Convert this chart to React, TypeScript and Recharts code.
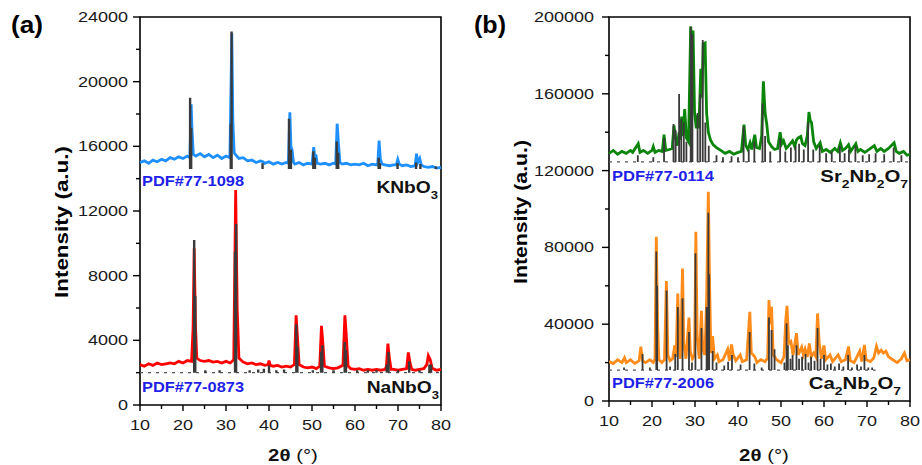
import { ComposedChart, Line, XAxis, YAxis, ReferenceArea } from 'recharts';

const FONT = '"Liberation Sans", Arial, sans-serif';
const SX = 1.2; // horizontal stretch of the source figure's lettering

// 2θ ticks (every 5°, labels every 10°)
const xTicks = [10, 15, 20, 25, 30, 35, 40, 45, 50, 55, 60, 65, 70, 75, 80];
const yTicksA = [0, 2000, 4000, 6000, 8000, 10000, 12000, 14000, 16000, 18000, 20000, 22000, 24000];
const yTicksB = [0, 20000, 40000, 60000, 80000, 100000, 120000, 140000, 160000, 180000, 200000];

// measured patterns [2θ, intensity]
const knbo3: [number, number][] = [
  [10, 15000], [11, 15100], [12, 14950], [13, 15150], [14, 15050], [15, 15200], [16, 15100], [17, 15300],
  [18, 15200], [19, 15350], [20, 15250], [21, 15400], [21.6, 15300], [21.9, 18600], [22.1, 17000], [22.4, 15500],
  [23, 15400], [24, 15550], [25, 15350], [26, 15500], [27, 15300], [28, 15450], [29, 15250], [30, 15400],
  [30.9, 15300], [31.35, 23000], [31.6, 17500], [31.9, 15600], [32.5, 15400], [33, 15250], [34, 15300],
  [35, 15100], [36, 15150], [37, 15000], [38, 15100], [38.6, 15050], [39, 14950], [40, 15050], [41, 14900],
  [42, 15000], [43, 14900], [44, 15000], [44.5, 14950], [44.85, 18100], [45.1, 16000], [45.35, 15800],
  [45.7, 15000], [46, 14900], [47, 15000], [48, 14850], [49, 14950], [50, 14900], [50.4, 15950], [50.7, 15200],
  [50.9, 15500], [51.2, 14950], [52, 14900], [53, 14950], [54, 14850], [55, 14950], [55.5, 14900],
  [55.85, 17400], [56.15, 16200], [56.5, 15000], [57, 14900], [58, 14950], [59, 14850], [60, 14900],
  [61, 14850], [62, 14950], [63, 14800], [64, 14900], [65, 14850], [65.3, 14950], [65.6, 16350], [65.9, 15200],
  [66.3, 14900], [67, 14850], [68, 14800], [69, 14850], [69.6, 14850], [69.95, 15200], [70.3, 14900],
  [71, 14800], [72, 14850], [73, 14750], [74, 14800], [74.3, 15550], [74.6, 15000], [75.05, 15250],
  [75.4, 14850], [76, 14750], [77, 14700], [78, 14750], [79, 14650], [80, 14700],
];

const nanbo3: [number, number][] = [
  [10, 2500], [11, 2400], [12, 2550], [13, 2450], [14, 2600], [15, 2500], [16, 2550], [17, 2600], [18, 2550],
  [19, 2700], [20, 2600], [21, 2750], [22, 2700], [22.35, 4800], [22.6, 9700], [22.9, 5000], [23.2, 2900],
  [24, 2750], [25, 2700], [26, 2750], [27, 2650], [28, 2700], [29, 2600], [30, 2700], [31, 2600], [31.8, 2800],
  [32.25, 13300], [32.6, 6000], [33, 2900], [34, 2650], [35, 2550], [36, 2600], [37, 2500], [38, 2550],
  [39, 2450], [39.8, 2500], [40, 2750], [40.3, 2450], [41, 2400], [42, 2450], [43, 2350], [44, 2400],
  [45, 2350], [45.9, 2500], [46.3, 5550], [46.6, 4300], [47, 2500], [48, 2350], [49, 2300], [50, 2350],
  [51, 2250], [51.8, 2400], [52.2, 4900], [52.5, 3900], [52.9, 2400], [54, 2300], [55, 2250], [56, 2300],
  [57.2, 2450], [57.65, 5550], [57.95, 4400], [58.4, 2400], [59, 2250], [60, 2200], [61, 2250], [62, 2150],
  [63, 2200], [64, 2150], [65, 2200], [66, 2150], [67, 2200], [67.3, 2400], [67.65, 3800], [68, 2900],
  [68.4, 2200], [69, 2200], [70, 2150], [71, 2200], [72, 2250], [72.4, 3250], [72.8, 2600], [73.2, 2200],
  [74, 2150], [75, 2200], [76, 2250], [76.7, 2500], [77.05, 3050], [77.5, 2800], [77.9, 2300], [78.5, 2200],
  [79, 2150], [80, 2200],
];

const sr2nb2o7: [number, number][] = [
  [10, 129000], [11, 130500], [12, 128500], [13, 130000], [14, 129000], [15, 130500], [15.5, 129500],
  [16.8, 134000], [17.2, 129500], [18, 130500], [19, 129000], [20, 130500], [20.3, 132500], [20.7, 129500],
  [21.5, 130500], [22.4, 130000], [22.8, 138700], [23.2, 130500], [24, 131000], [24.7, 131500],
  [25.1, 143500], [25.5, 137000], [25.9, 133000], [26.3, 140000], [26.6, 136000], [26.9, 148200],
  [27.2, 138000], [27.6, 152000], [28, 137000], [28.5, 135000], [29, 195000], [29.3, 185000],
  [29.55, 193000], [29.9, 150000], [30.3, 142000], [30.65, 149000], [30.9, 142000], [31.35, 173000],
  [31.6, 158000], [31.9, 186000], [32.35, 186500], [32.7, 150000], [33.1, 140000], [33.6, 136000],
  [34.2, 133500], [35, 132000], [36, 130500], [37, 129000], [38, 130000], [39, 128500], [40, 129500],
  [40.8, 130000], [41.4, 144000], [41.8, 133000], [42.3, 131000], [42.8, 134500], [43.2, 131000],
  [43.9, 138700], [44.3, 132000], [45, 131500], [45.5, 138000], [45.9, 166500], [46.3, 150000],
  [46.7, 144000], [47.1, 135000], [47.8, 132500], [48.5, 131000], [49.2, 131500], [49.8, 140000],
  [50.2, 134000], [50.6, 135500], [51.2, 131500], [51.8, 133000], [52.7, 135500], [53.2, 132500],
  [53.6, 136000], [54, 137000], [54.6, 137800], [55, 134000], [55.6, 133000], [56.1, 138000],
  [56.5, 150500], [56.8, 146000], [57.1, 145000], [57.6, 135000], [58.2, 131500], [59.1, 134500],
  [59.6, 130000], [60.5, 131000], [61.5, 129500], [62.5, 131500], [63.2, 130000], [63.8, 134500],
  [64.3, 130500], [65, 131500], [65.7, 133500], [66.2, 130000], [67.4, 134000], [67.9, 130000],
  [68.5, 131000], [69.5, 129500], [70.5, 131000], [71.7, 133000], [72.3, 130000], [73.2, 131500],
  [74, 130000], [75, 131500], [76.3, 134500], [76.8, 130000], [77.5, 129000], [78.5, 130000],
  [79.3, 128000], [80, 128500],
];

const ca2nb2o7: [number, number][] = [
  [10, 20500], [11, 19500], [12, 21500], [13, 20000], [13.6, 22500], [14, 20000], [15, 21500], [16, 19500],
  [17, 21000], [17.4, 28300], [17.8, 21000], [18.5, 20000], [19.5, 21500], [20.3, 20000], [20.7, 22000],
  [21, 85600], [21.3, 40000], [21.6, 21500], [22.3, 20000], [22.9, 21500], [23.35, 62500], [23.7, 24000],
  [24.2, 21000], [24.8, 22000], [25.3, 29000], [25.6, 23000], [26, 56000], [26.3, 30000], [26.6, 22000],
  [27.1, 69000], [27.4, 30000], [27.9, 22000], [28.6, 43500], [28.9, 26000], [29.4, 22000], [29.9, 24000],
  [30.2, 88200], [30.5, 34000], [31, 22000], [31.5, 47000], [31.8, 27000], [32.3, 24000], [32.7, 53500],
  [33.1, 109000], [33.4, 60000], [33.7, 25000], [34.1, 33800], [34.5, 22000], [35.2, 24000], [35.6, 20500],
  [36.5, 21500], [37.6, 27000], [38, 21000], [38.5, 29500], [38.9, 24000], [39.5, 21000], [40.5, 24000],
  [41, 20500], [42, 21500], [42.75, 46500], [43.1, 25000], [43.9, 23000], [44.4, 20000], [45.3, 21500],
  [46.3, 20500], [46.9, 22500], [47.2, 52600], [47.5, 40000], [47.8, 49000], [48.2, 24000], [49, 21500],
  [50, 20000], [50.7, 23000], [51.1, 42000], [51.4, 49600], [51.8, 30000], [52.3, 31000], [52.8, 24000],
  [53.6, 35300], [54, 24000], [54.8, 28000], [55.2, 24000], [55.6, 27000], [56.1, 23000], [56.6, 30000],
  [57, 23000], [57.6, 25000], [58.1, 23000], [58.5, 45600], [58.9, 30000], [59.4, 22000], [60, 29000],
  [60.4, 21500], [61.4, 24000], [62, 20500], [63.3, 24000], [64, 20500], [65, 21500], [65.7, 28400],
  [66.1, 21000], [67, 20000], [68.3, 26000], [68.8, 20500], [69.4, 29200], [69.8, 21500], [70.8, 20500],
  [71.6, 22500], [72.2, 28500], [72.7, 25000], [73.3, 26500], [73.8, 25000], [74.4, 26000], [75, 23000],
  [76, 21500], [77, 20000], [78, 22000], [78.7, 25000], [79.3, 21000], [80, 21500],
];

// PDF reference sticks [2θ, top]; bases below
const knbo3Base = 14600;
const knbo3Pdf: [number, number][] = [
  [21.65, 19000], [21.9, 17150], [31.1, 17400], [31.3, 23100], [38.5, 14950], [44.65, 17700], [45.1, 15800],
  [50.3, 15700], [50.7, 15300], [55.75, 16300], [56.1, 15600], [65.5, 15300], [65.8, 14950], [69.9, 14950],
  [74.2, 15000], [75.2, 14900], [78.8, 14750],
];
const nanbo3Base = 2000;
const nanbo3Pdf: [number, number][] = [
  [22.6, 10200], [22.85, 6750], [25.2, 2150], [28.5, 2150], [32.1, 9500], [32.35, 11200], [35.5, 2150],
  [37.5, 2200], [38.8, 2250], [40, 2450], [41.7, 2150], [43.5, 2200], [46.35, 5000], [46.6, 3600],
  [50.2, 2150], [52.1, 3300], [52.4, 3700], [55, 2150], [57.6, 3900], [57.9, 3400], [60.5, 2150], [63, 2150],
  [65, 2150], [67.4, 2500], [67.8, 3300], [70, 2150], [72.6, 2700], [75, 2150], [77.3, 2500], [77.7, 2500],
];
const sr2nb2o7Base = 124500;
const sr2nb2o7Pdf: [number, number][] = [
  [16.7, 128000], [20.3, 127000], [22.8, 137000], [25, 144300], [25.5, 141000], [26.3, 159900],
  [26.8, 147000], [27.4, 145000], [28, 135000], [29, 195000], [29.4, 191000], [30.6, 150000],
  [31.2, 160000], [31.8, 188000], [32.4, 145000], [33.2, 133000], [35, 128000], [36.5, 127000],
  [38.5, 127500], [40, 127000], [41.3, 143000], [42.5, 131000], [43.8, 135000], [45.7, 155000],
  [46.3, 138000], [47.5, 130000], [49.8, 137000], [51, 130000], [52.3, 132000], [53.4, 133000],
  [54.2, 134000], [55.3, 131000], [56.3, 145000], [57.5, 131000], [59, 133000], [60.5, 129000],
  [61.8, 130000], [63.7, 133000], [64.8, 129000], [65.8, 131000], [67.3, 133000], [69, 128000],
  [70.5, 128500], [72, 129000], [74, 128500], [76.2, 132000], [78, 128000],
];
const ca2nb2o7Base = 16100;
const ca2nb2o7Pdf: [number, number][] = [
  [13.5, 17500], [17.8, 24500], [19.5, 17500], [21, 77800], [21.2, 60000], [23.4, 57500], [24.2, 18000],
  [25.4, 24500], [26, 49000], [27.1, 53500], [28.6, 36000], [29.3, 20000], [30.1, 77000], [31.5, 38000],
  [32.7, 49000], [33.1, 98000], [33.3, 66000], [34.1, 26000], [35, 20000], [36.8, 18500], [37.7, 20500],
  [38.6, 24000], [40.6, 19000], [42.7, 36000], [43.8, 19500], [45.5, 17500], [47.2, 43500], [47.8, 37000],
  [48.5, 27000], [50.8, 20000], [51.3, 40500], [51.6, 29000], [52.2, 22000], [52.7, 24000], [53.6, 29000],
  [54.2, 22000], [54.9, 23000], [55.7, 24500], [56.4, 20000], [57, 23000], [57.8, 21000], [58.5, 38000],
  [59.2, 22000], [60, 24000], [60.8, 19000], [61.6, 19500], [62.5, 18000], [63.5, 19500], [64.5, 18000],
  [65.6, 24000], [66.5, 17500], [67.7, 19000], [68.6, 18000], [69.4, 24000], [70.3, 17500], [71.2, 17500],
];

const toPts = (arr: [number, number][]) => arr.map(([x, y]) => ({ x, y }));
const toSticks = (arr: [number, number][], base: number) =>
  arr.flatMap(([x, top]) => [{ x, y: base }, { x, y: top }, { x, y: null }]);
const baseLine = (x1: number, x2: number, y: number) => [{ x: x1, y }, { x: x2, y }];

const STICK = '#3a3a3a';

function XTick(props: any) {
  const { x, y, payload } = props;
  const v = payload.value;
  const major = v % 10 === 0;
  return (
    <g>
      <line x1={x} y1={y} x2={x} y2={y + (major ? 6 : 4)} stroke="#000" strokeWidth={1.4} />
      {major && (
        <text transform={`translate(${x},${y + 25}) scale(${SX},1)`} textAnchor="middle" fontSize={15}
          fontFamily={FONT} fill="#1a1a1a">{v}</text>
      )}
    </g>
  );
}

const makeYTick = (step: number, gap: number) => (props: any) => {
  const { x, y, payload } = props;
  const v = payload.value;
  const major = v % step === 0;
  return (
    <g>
      <line x1={x - (major ? 7 : 4)} y1={y} x2={x} y2={y} stroke="#000" strokeWidth={1.4} />
      {major && (
        <text transform={`translate(${x - gap},${y + 5}) scale(${SX},1)`} textAnchor="end" fontSize={15}
          fontFamily={FONT} fill="#1a1a1a">{v}</text>
      )}
    </g>
  );
};
const YTickA = makeYTick(4000, 12);
const YTickB = makeYTick(40000, 15);

function Formula({ x, y, parts, size }: { x: number; y: number; parts: [string, string?][]; size: number }) {
  return (
    <text transform={`translate(${x},${y}) scale(${SX},1)`} textAnchor="end" fontSize={size} fontWeight="bold"
      fontFamily={FONT} fill="#111">
      {parts.map(([main, sub], i) => (
        <tspan key={i}>
          <tspan dy={i > 0 && parts[i - 1][1] ? -6 : 0}>{main}</tspan>
          {sub && <tspan fontSize={size * 0.68} dy={6}>{sub}</tspan>}
        </tspan>
      ))}
    </text>
  );
}

function Pdf({ x, y, label }: { x: number; y: number; label: string }) {
  return (
    <text transform={`translate(${x},${y}) scale(${SX},1)`} fontSize={14} fontWeight="bold" fontFamily={FONT}
      fill="#1f1fe8" textLength={85} lengthAdjust="spacingAndGlyphs">{label}</text>
  );
}

function Annotations() {
  return (
    <svg width={922} height={465} style={{ position: 'absolute', left: 0, top: 0, pointerEvents: 'none' }}>
      <text x={11} y={33} fontSize={24} fontWeight="bold" fontFamily={FONT} textLength={32} lengthAdjust="spacingAndGlyphs">(a)</text>
      <text x={474} y={33} fontSize={24} fontWeight="bold" fontFamily={FONT} textLength={32} lengthAdjust="spacingAndGlyphs">(b)</text>

      <text transform="translate(68,222) rotate(-90)" textAnchor="middle" fontSize={19} fontWeight="bold"
        fontFamily={FONT} textLength={152} lengthAdjust="spacingAndGlyphs">Intensity (a.u.)</text>
      <text transform="translate(527,212) rotate(-90)" textAnchor="middle" fontSize={19} fontWeight="bold"
        fontFamily={FONT} textLength={144} lengthAdjust="spacingAndGlyphs">Intensity (a.u.)</text>

      <text transform={`translate(293,461) scale(${SX},1)`} textAnchor="middle" fontSize={17} fontFamily={FONT} fill="#111">
        <tspan fontWeight="bold">2θ</tspan> (°)
      </text>
      <text transform={`translate(764,461) scale(${SX},1)`} textAnchor="middle" fontSize={17} fontFamily={FONT} fill="#111">
        <tspan fontWeight="bold">2θ</tspan> (°)
      </text>

      <Pdf x={142} y={186} label="PDF#77-1098" />
      <Pdf x={142} y={392} label="PDF#77-0873" />
      <Pdf x={612} y={181} label="PDF#77-0114" />
      <Pdf x={612} y={388} label="PDF#77-2006" />

      <Formula x={438} y={193} size={16} parts={[['KNbO', '3']]} />
      <Formula x={439} y={393} size={16} parts={[['NaNbO', '3']]} />
      <Formula x={908} y={182} size={17} parts={[['Sr', '2'], ['Nb', '2'], ['O', '7']]} />
      <Formula x={901} y={389} size={17} parts={[['Ca', '2'], ['Nb', '2'], ['O', '7']]} />
    </svg>
  );
}

export default function App() {
  const common = { dataKey: 'y', dot: false, activeDot: false, isAnimationActive: false, type: 'linear' as const };
  return (
    <div style={{ position: 'absolute', left: 0, top: 0, width: 922, height: 465, background: '#fff', fontFamily: FONT }}>
      <div style={{ position: 'absolute', left: 0, top: 0 }}>
        <ComposedChart width={461} height={465} margin={{ top: 17, right: 20, bottom: 30, left: 100 }}>
          <XAxis dataKey="x" type="number" domain={[10, 80]} ticks={xTicks} interval={0} height={30}
            axisLine={false} tickLine={false} tickSize={0} tickMargin={0} tick={<XTick />} />
          <YAxis type="number" domain={[0, 24000]} ticks={yTicksA} interval={0} width={40}
            axisLine={false} tickLine={false} tickSize={0} tickMargin={0} tick={<YTickA />} />
          <Line {...common} data={toPts(knbo3)} stroke="#1e90ff" strokeWidth={2.8} />
          <Line {...common} data={toPts(nanbo3)} stroke="#ff0000" strokeWidth={2.8} />
          <Line {...common} data={baseLine(10, 80, nanbo3Base)} stroke="#555" strokeWidth={1.2} strokeDasharray="3 5" />
          <Line {...common} data={toSticks(knbo3Pdf, knbo3Base)} stroke={STICK} strokeWidth={2.4} connectNulls={false} />
          <Line {...common} data={toSticks(nanbo3Pdf, nanbo3Base)} stroke={STICK} strokeWidth={2.4} connectNulls={false} />
          <ReferenceArea x1={10} x2={80} y1={0} y2={24000} fill="none" stroke="#000" strokeWidth={1.6} />
        </ComposedChart>
      </div>
      <div style={{ position: 'absolute', left: 461, top: 0 }}>
        <ComposedChart width={461} height={465} margin={{ top: 17, right: 12, bottom: 34, left: 108 }}>
          <XAxis dataKey="x" type="number" domain={[10, 80]} ticks={xTicks} interval={0} height={30}
            axisLine={false} tickLine={false} tickSize={0} tickMargin={0} tick={<XTick />} />
          <YAxis type="number" domain={[0, 200000]} ticks={yTicksB} interval={0} width={40}
            axisLine={false} tickLine={false} tickSize={0} tickMargin={0} tick={<YTickB />} />
          <Line {...common} data={toPts(sr2nb2o7)} stroke="#0a850a" strokeWidth={2.8} />
          <Line {...common} data={toPts(ca2nb2o7)} stroke="#ff8c1a" strokeWidth={2.8} />
          <Line {...common} data={baseLine(10, 80, sr2nb2o7Base)} stroke="#555" strokeWidth={1.2} strokeDasharray="3 5" />
          <Line {...common} data={baseLine(10, 72, ca2nb2o7Base)} stroke="#555" strokeWidth={1.2} strokeDasharray="3 5" />
          <Line {...common} data={toSticks(sr2nb2o7Pdf, sr2nb2o7Base)} stroke={STICK} strokeWidth={1.8} connectNulls={false} />
          <Line {...common} data={toSticks(ca2nb2o7Pdf, ca2nb2o7Base)} stroke={STICK} strokeWidth={1.8} connectNulls={false} />
          <ReferenceArea x1={10} x2={80} y1={0} y2={200000} fill="none" stroke="#000" strokeWidth={1.6} />
        </ComposedChart>
      </div>
      <Annotations />
    </div>
  );
}
